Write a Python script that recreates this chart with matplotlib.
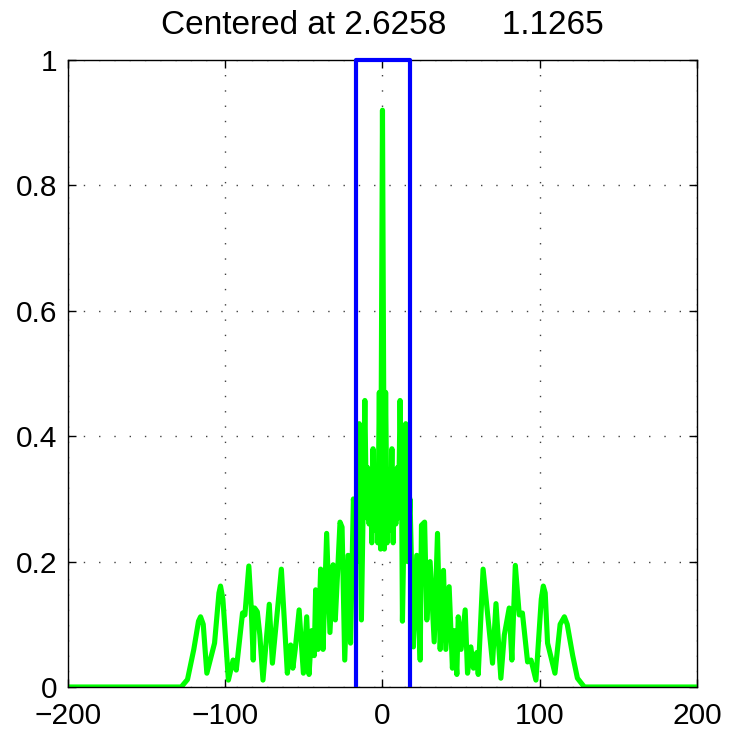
import numpy as np
import matplotlib
matplotlib.use('Agg')
import matplotlib.pyplot as plt

plt.rcParams['font.family'] = ['Liberation Sans', 'DejaVu Sans']

# response curve, left half then right half
x_left = [-200, -128, -124, -120, -117, -115.7, -114, -111.7, -106.8, -104, -103, -101.5,
          -98, -95, -93, -89, -87.5, -85, -83.5, -82.2, -81.3, -79.6, -78, -76, -72, -70,
          -64.3, -60.5, -58.4, -57, -55.5, -53, -50.3, -48.2, -46.7, -45, -43.4, -42.5,
          -41, -39.3, -37.8, -35.5, -33.4, -31.4, -30, -27, -25.7, -24, -21.9, -20.3,
          -18.5, -17, -16, -14.8, -13.4, -12.2, -11.2, -10.2, -9.5, -8.5, -7.5, -6.8,
          -6, -5, -4, -3, -2, -1.2, 0]
y_left = [0, 0, 0.012, 0.06, 0.105, 0.112, 0.1, 0.022, 0.07, 0.15, 0.161, 0.14,
          0.011, 0.043, 0.027, 0.118, 0.115, 0.193, 0.128, 0.043, 0.126, 0.12, 0.083, 0.011, 0.132, 0.038,
          0.188, 0.022, 0.067, 0.03, 0.06, 0.123, 0.022, 0.112, 0.02, 0.09, 0.05, 0.155,
          0.06, 0.188, 0.06, 0.245, 0.087, 0.195, 0.107, 0.263, 0.255, 0.043, 0.21, 0.07,
          0.3, 0.25, 0.2, 0.42, 0.107, 0.3, 0.457, 0.27, 0.35, 0.26, 0.34, 0.23,
          0.38, 0.25, 0.33, 0.23, 0.47, 0.22, 0.92]

x_right = [1.2, 2, 3, 4, 5, 6, 6.8, 7.5, 8.5, 9.5, 10.2, 11.2, 12.2, 12.7, 14.8, 16, 17.5,
           19.7, 21.8, 24, 24.8, 26.8, 28.2, 30.3, 32.9, 35, 36.7, 38.8, 40.3, 42.4, 44.5,
           45.5, 47.3, 48.2, 50, 52.6, 54.1, 56.2, 57.9, 60, 60.9, 64, 70, 72.2, 75.3,
           77.5, 80.6, 82.3, 84.5, 87, 89, 92.3, 94.5, 97.6, 101, 102.3, 103.5, 105, 109.7,
           113, 115.7, 117.5, 121, 124, 128.4, 200]
y_right = [0.22, 0.47, 0.23, 0.33, 0.25, 0.38, 0.23, 0.34, 0.26, 0.35, 0.27, 0.457, 0.3, 0.105, 0.42, 0.2, 0.3,
           0.064, 0.21, 0.043, 0.258, 0.263, 0.107, 0.2, 0.072, 0.245, 0.06, 0.186, 0.06, 0.16, 0.03,
           0.09, 0.02, 0.112, 0.06, 0.123, 0.022, 0.064, 0.03, 0.055, 0.02, 0.188, 0.038, 0.133, 0.014,
           0.083, 0.126, 0.043, 0.194, 0.115, 0.118, 0.04, 0.043, 0.011, 0.14, 0.161, 0.15, 0.07, 0.022,
           0.1, 0.112, 0.1, 0.05, 0.014, 0, 0]

# window edges
win_lo, win_hi = -17.0, 17.3
win_x = [win_lo, win_lo, win_hi, win_hi]
win_y = [0, 1, 1, 0]

title_text = 'Centered at 2.6258      1.1265'

x = np.array(x_left + x_right)
y = np.array(y_left + y_right)

fig = plt.figure(figsize=(7.29, 7.35), dpi=100)
ax = fig.add_axes([0.0933, 0.0653, 0.8627, 0.8530])

ax.plot(x, y, color='#00ff00', linewidth=3.7, solid_joinstyle='round',
        solid_capstyle='butt', zorder=2)
ax.plot(win_x, win_y, color='#0000ff', linewidth=3.0, clip_on=False,
        solid_capstyle='butt', zorder=3)

ax.set_xlim(-200, 200)
ax.set_ylim(0, 1)
ax.set_xticks([-200, -100, 0, 100, 200])
ax.set_yticks([0, 0.2, 0.4, 0.6, 0.8, 1])
ax.set_yticklabels(['0', '0.2', '0.4', '0.6', '0.8', '1'])
ax.tick_params(direction='in', length=6, width=1, top=True, right=True,
               labelsize=21.5)
ax.tick_params(axis='x', pad=11)
ax.tick_params(axis='y', pad=8)
ax.grid(True, color='black', linestyle=(0, (1, 10)), linewidth=1.0, alpha=0.75)
for s in ax.spines.values():
    s.set_linewidth(1.0)

ax.set_title(title_text, fontsize=24, pad=19)

fig.savefig('out.png', dpi=100)
